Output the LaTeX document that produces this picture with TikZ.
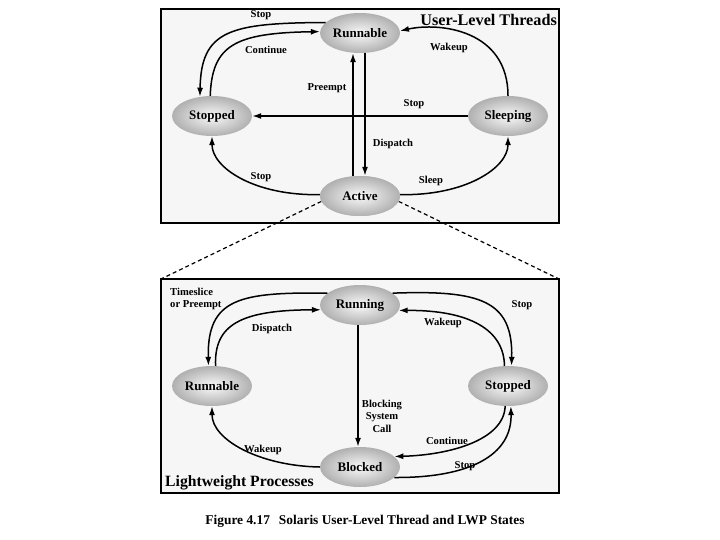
\documentclass[tikz,border=0pt]{standalone}
\usepackage{fontspec}
\setmainfont{Liberation Serif}
\usetikzlibrary{shapes.geometric,arrows.meta}
\begin{document}
\begin{tikzpicture}[x=1pt,y=-1pt,
  stnode/.style={ellipse, minimum width=80pt, minimum height=40pt, inner sep=0pt,
    inner color=gray!4, outer color=gray!62,
    font=\fontsize{13}{15}\selectfont\bfseries},
  lbl/.style={font=\fontsize{10.6}{12.5}\selectfont\bfseries, inner sep=0pt},
  arr/.style={line width=1.5pt, -{Latex[length=9pt,width=6pt]}},
  panel/.style={draw=black, line width=1.2pt, fill=gray!7},
  dashline/.style={line width=1.2pt, dash pattern=on 4pt off 3pt}]
\useasboundingbox (0,0) rectangle (720,540);

% panels
\draw[panel] (161,9) rectangle (559,223);
\draw[panel] (161,279) rectangle (559,493);
\coordinate (lwpnw) at (161,279);
\coordinate (lwpne) at (559,279);

% titles
\node[font=\fontsize{16.2}{18}\selectfont\bfseries, anchor=east, inner sep=0pt] (ttl) at (557,20) {User-Level Threads};
\node[font=\fontsize{15.7}{18}\selectfont\bfseries, anchor=west, inner sep=0pt] (ttl2) at (165,483) {Lightweight Processes};
\node[font=\fontsize{13.4}{15}\selectfont\bfseries, inner sep=0pt] (cap) at (365,521) {Figure 4.17\hspace{9pt}Solaris User-Level Thread and LWP States};

% ---------- user-level threads ----------
\node[stnode] (run) at (360,33) {Runnable};
\node[stnode] (stopT) at (212,116) {Stopped};
\node[stnode] (sleep) at (508,116) {Sleeping};
\node[stnode] (act) at (360,196) {Active};

% dashed zoom lines
\draw[dashline] (act.188) -- (lwpnw);
\draw[dashline] (act.352) -- (lwpne);
\node[stnode] at (act) {Active};

\draw[arr] (run.163) .. controls (230,23) and (201,30) .. (stopT.122);
\draw[arr] (stopT.95) .. controls (212,45) and (235,33) .. (run.178);
\draw[arr] (sleep.90) .. controls (508,30) and (440,22) .. (run.3);
\draw[arr] ([xshift=-7pt]act.north) -- ([xshift=-7pt]run.south);
\draw[arr] ([xshift=5pt]run.south) -- ([xshift=5pt]act.north);
\draw[arr] (sleep.west) -- (stopT.east);
\draw[arr] (act.178) .. controls (255,196) and (212,168) .. (stopT.south);
\draw[arr] (act.2) .. controls (465,196) and (508,168) .. (sleep.south);

\node[lbl] (l1) at (261,15) {Stop};
\node[lbl] (l2) at (266,50) {Continue};
\node[lbl] (l3) at (449,48) {Wakeup};
\node[lbl] (l4) at (327,88) {Preempt};
\node[lbl] (l5) at (414,104) {Stop};
\node[lbl] (l6) at (393,144) {Dispatch};
\node[lbl] (l7) at (261,177) {Stop};
\node[lbl] (l8) at (431,181) {Sleep};

% ---------- lightweight processes ----------
\node[stnode] (rng) at (360,305) {Running};
\node[stnode] (runB) at (212,386) {Runnable};
\node[stnode] (stopB) at (508,386) {Stopped};
\node[stnode] (blk) at (360,467) {Blocked};

\draw[arr] (rng.160) .. controls (240,292) and (207,298) .. (runB.100);
\draw[arr] (runB.80) .. controls (214,325) and (240,310) .. (rng.187);
\draw[arr] (rng.20) .. controls (480,290) and (513,300) .. (stopB.80);
\draw[arr] (stopB.100) .. controls (504,330) and (470,310) .. (rng.352);
\draw[arr] ([xshift=-2pt]rng.south) -- ([xshift=-2pt]blk.north);
\draw[arr] (stopB.262) .. controls (504,440) and (450,455) .. (blk.17);
\draw[arr] (blk.343) .. controls (470,478) and (512,455) .. (stopB.278);
\draw[arr] (blk.west) .. controls (260,466) and (212,440) .. (runB.south);

\node[lbl, anchor=west, align=left] (m1) at (170,299) {Timeslice\\or Preempt};
\node[lbl] (m2) at (272,329) {Dispatch};
\node[lbl] (m3) at (522,305) {Stop};
\node[lbl] (m4) at (443,323) {Wakeup};
\node[lbl, align=center] (m5) at (382,416) {Blocking\\System\\Call};
\node[lbl] (m6) at (447,441) {Continue};
\node[lbl] (m7) at (465,466) {Stop};
\node[lbl] (m8) at (263,450) {Wakeup};
\end{tikzpicture}
\end{document}
